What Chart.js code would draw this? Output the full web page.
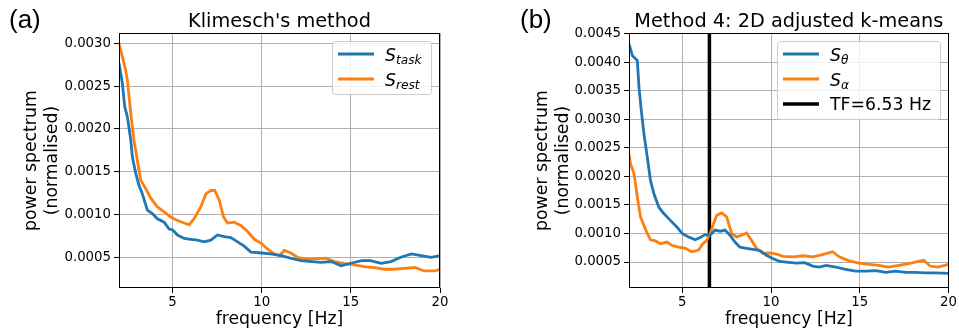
<!DOCTYPE html>
<html>
<head>
<meta charset="utf-8">
<script src="https://cdn.jsdelivr.net/npm/chart.js@4.4.1/dist/chart.umd.min.js"></script>
<style>
  html, body { margin: 0; padding: 0; background: #fff; }
  #wrap { position: relative; width: 959px; height: 331px; overflow: hidden; }
  canvas { position: absolute; top: 0; }
  #chartA { left: 0; }
  #chartB { left: 480px; }
</style>
</head>
<body>
<div id="wrap">
  <canvas id="chartA" width="479" height="331"></canvas>
  <canvas id="chartB" width="479" height="331"></canvas>
</div>
<script>
// ---- data ----
// (a) Klimesch's method
const taskFreq = [2.0, 2.19, 2.32, 2.47, 2.66, 2.75, 2.94, 3.12, 3.31, 3.59, 3.87, 4.15, 4.53, 4.81, 5.0, 5.28, 5.65, 6.03, 6.4, 6.78, 7.15, 7.52, 7.9, 8.27, 8.65, 9.02, 9.4, 10.0, 10.5, 11.1, 11.6, 12.2, 12.8, 13.3, 13.9, 14.45, 15.0, 15.6, 16.1, 16.7, 17.25, 17.8, 18.4, 18.95, 19.5, 20.0];
const taskPow = [0.00277, 0.00253, 0.00226, 0.00214, 0.00187, 0.00167, 0.00148, 0.00134, 0.00124, 0.00105, 0.00101, 0.00095, 0.00091, 0.00083, 0.00082, 0.00076, 0.00072, 0.00071, 0.00070, 0.00068, 0.00070, 0.00076, 0.00074, 0.00073, 0.00068, 0.00063, 0.00056, 0.00055, 0.00054, 0.00052, 0.00049, 0.00046, 0.00045, 0.00044, 0.00045, 0.00040, 0.00043, 0.00046, 0.00046, 0.00043, 0.00045, 0.00050, 0.00054, 0.00052, 0.00050, 0.00052];
const restFreq = [2.0, 2.19, 2.37, 2.47, 2.66, 2.84, 3.03, 3.22, 3.5, 3.78, 4.15, 4.53, 4.9, 5.28, 5.65, 5.93, 6.21, 6.59, 6.87, 7.15, 7.37, 7.62, 7.86, 8.09, 8.46, 8.84, 9.21, 9.59, 10.0, 10.3, 10.7, 11.0, 11.27, 11.64, 12.0, 12.4, 12.9, 13.6, 14.08, 14.6, 15.2, 15.75, 16.3, 16.9, 17.4, 18.0, 18.6, 19.1, 19.7, 20.0];
const restPow = [0.00300, 0.00284, 0.00269, 0.00257, 0.00218, 0.00187, 0.00163, 0.00140, 0.00130, 0.00119, 0.00109, 0.00103, 0.00097, 0.00093, 0.00090, 0.00088, 0.00095, 0.00109, 0.00124, 0.00128, 0.00128, 0.00117, 0.00097, 0.00090, 0.00091, 0.00087, 0.00080, 0.00071, 0.00066, 0.00060, 0.00054, 0.00052, 0.00058, 0.00055, 0.00050, 0.00048, 0.00048, 0.00049, 0.00045, 0.00043, 0.00041, 0.00039, 0.00038, 0.00036, 0.00036, 0.00037, 0.00038, 0.00034, 0.00034, 0.00036];

// (b) Method 4
const thetaFreq = [2.0, 2.19, 2.37, 2.47, 2.56, 2.69, 2.84, 3.03, 3.21, 3.4, 3.68, 3.96, 4.33, 4.71, 4.99, 5.36, 5.73, 6.01, 6.29, 6.57, 6.85, 7.13, 7.41, 7.69, 7.97, 8.25, 8.62, 9.0, 9.37, 9.74, 10.1, 10.49, 10.86, 11.42, 11.9, 12.35, 12.73, 13.1, 13.66, 14.2, 14.77, 15.34, 15.9, 16.46, 17.0, 17.6, 18.1, 18.7, 19.25, 20.0];
const thetaPow = [0.00432, 0.00412, 0.00406, 0.00403, 0.00357, 0.00316, 0.00275, 0.00234, 0.00193, 0.00170, 0.00146, 0.00135, 0.00123, 0.00111, 0.00100, 0.00094, 0.00089, 0.00093, 0.00098, 0.00097, 0.00106, 0.00104, 0.00106, 0.00097, 0.00085, 0.00076, 0.00074, 0.00072, 0.00070, 0.00062, 0.00056, 0.00051, 0.00050, 0.00048, 0.00049, 0.00043, 0.00041, 0.00044, 0.00041, 0.00037, 0.00034, 0.00034, 0.00035, 0.00032, 0.00034, 0.00032, 0.00032, 0.00031, 0.00031, 0.00030];
const alphaFreq = [2.0, 2.09, 2.28, 2.47, 2.65, 2.84, 3.03, 3.21, 3.49, 3.77, 4.14, 4.42, 4.79, 5.17, 5.54, 5.92, 6.16, 6.38, 6.57, 6.76, 6.94, 7.22, 7.5, 7.78, 8.06, 8.34, 8.62, 8.9, 9.18, 9.55, 9.93, 10.3, 10.68, 11.24, 11.8, 12.35, 12.9, 13.47, 13.84, 14.4, 14.96, 15.5, 16.07, 16.6, 17.2, 17.75, 18.3, 18.6, 18.96, 19.4, 20.0];
const alphaPow = [0.00240, 0.00222, 0.00205, 0.00164, 0.00129, 0.00114, 0.00100, 0.00089, 0.00087, 0.00082, 0.00085, 0.00079, 0.00076, 0.00074, 0.00068, 0.00071, 0.00082, 0.00088, 0.00100, 0.00117, 0.00132, 0.00136, 0.00129, 0.00100, 0.00094, 0.00097, 0.00101, 0.00088, 0.00074, 0.00065, 0.00066, 0.00064, 0.00060, 0.00059, 0.00061, 0.00059, 0.00063, 0.00068, 0.00059, 0.00052, 0.00048, 0.00046, 0.00044, 0.00041, 0.00044, 0.00047, 0.00051, 0.00053, 0.00043, 0.00041, 0.00046];
const tfFreq = 6.53;

// ticks
const xTicks = [5, 10, 15, 20];
const yTicksA = [0.0005, 0.0010, 0.0015, 0.0020, 0.0025, 0.0030];
const yTicksB = [0.0005, 0.0010, 0.0015, 0.0020, 0.0025, 0.0030, 0.0035, 0.0040, 0.0045];

const BLUE = "#1f77b4";
const ORANGE = "#ff7f0e";
const FONT = '"DejaVu Sans", sans-serif';

Chart.defaults.font.family = FONT;
Chart.defaults.color = "#000";

function toPoints(xs, ys) {
  return xs.map((x, i) => ({ x: x, y: ys[i] }));
}

function lineSet(label, main, sub, xs, ys, color, width) {
  return {
    label: label,
    legendMain: main,
    legendSub: sub,
    data: toPoints(xs, ys),
    borderColor: color,
    borderWidth: width,
    pointRadius: 0,
    tension: 0,
    clip: 0,
  };
}

// spines + matplotlib-style legend box, drawn on top of the lines
const frameLegend = {
  id: "frameLegend",
  afterDatasetsDraw(chart) {
    const ctx = chart.ctx;
    const a = chart.chartArea;
    ctx.save();
    ctx.strokeStyle = "#000";
    ctx.lineWidth = 1;
    ctx.strokeRect(Math.round(a.left) + 0.5, Math.round(a.top) + 0.5,
      Math.round(a.right - a.left) - 1, Math.round(a.bottom - a.top) - 1);

    const items = chart.data.datasets;
    const mainItalic = "italic 17.3px " + FONT;
    const mainPlain = "17.3px " + FONT;
    const subFont = "italic 12.2px " + FONT;
    let maxW = 0;
    items.forEach((d) => {
      ctx.font = d.legendSub ? mainItalic : mainPlain;
      let w = ctx.measureText(d.legendMain).width;
      if (d.legendSub) {
        ctx.font = subFont;
        w += ctx.measureText(d.legendSub).width;
      }
      maxW = Math.max(maxW, w);
    });
    const w = Math.round(53 + maxW + 9);
    const h = items.length * 25 + 3;
    const bx = Math.round(a.right) - 9 - w;
    const by = Math.round(a.top) + 8;

    ctx.beginPath();
    ctx.roundRect(bx + 0.5, by + 0.5, w, h, 3);
    ctx.fillStyle = "rgba(255,255,255,0.8)";
    ctx.fill();
    ctx.strokeStyle = "#cccccc";
    ctx.stroke();

    items.forEach((d, i) => {
      const y = by + 13 + i * 25;
      ctx.beginPath();
      ctx.moveTo(bx + 6, y);
      ctx.lineTo(bx + 42, y);
      ctx.strokeStyle = d.borderColor;
      ctx.lineWidth = d.borderWidth;
      ctx.stroke();
      ctx.fillStyle = "#000";
      ctx.textBaseline = "alphabetic";
      ctx.textAlign = "left";
      if (d.legendSub) {
        ctx.font = mainItalic;
        ctx.fillText(d.legendMain, bx + 53, y + 6.5);
        const sw = ctx.measureText(d.legendMain).width;
        ctx.font = subFont;
        ctx.fillText(d.legendSub, bx + 53 + sw, y + 9.5);
      } else {
        ctx.font = mainPlain;
        ctx.fillText(d.legendMain, bx + 53, y + 6);
      }
    });
    ctx.restore();
  },
};

// "(a)" / "(b)" panel letters
const panelTag = {
  id: "panelTag",
  afterDraw(chart, args, opts) {
    const ctx = chart.ctx;
    ctx.save();
    ctx.font = '26px "Liberation Sans", Arial, sans-serif';
    ctx.fillStyle = "#000";
    ctx.textBaseline = "middle";
    ctx.textAlign = "left";
    ctx.fillText(opts.text, opts.x, 21);
    ctx.restore();
  },
};

function buildChart(canvasId, opt) {
  return new Chart(document.getElementById(canvasId), {
    type: "line",
    data: { datasets: opt.datasets },
    options: {
      responsive: false,
      animation: false,
      events: [],
      layout: { padding: { left: opt.padLeft, right: opt.padRight, top: 0, bottom: 0 } },
      plugins: {
        legend: { display: false },
        tooltip: { enabled: false },
        title: {
          display: true,
          text: opt.title,
          fullSize: false,
          color: "#000",
          font: { size: 19.3, weight: "normal" },
          padding: { top: 10, bottom: 0 },
        },
        panelTag: { text: opt.tag, x: opt.tagX },
      },
      scales: {
        x: {
          type: "linear",
          min: 2,
          max: 20,
          afterBuildTicks: (s) => { s.ticks = xTicks.map((v) => ({ value: v })); },
          afterFit: (s) => { s.height = 43; },
          border: { display: false },
          grid: { color: "#b0b0b0", lineWidth: 1, tickColor: "#000", tickLength: 5 },
          ticks: { font: { size: 13.3 }, color: "#000", padding: 2, maxRotation: 0, callback: (v) => v },
          title: { display: true, text: "frequency [Hz]", color: "#000", font: { size: 17.3 }, padding: { top: 0, bottom: 1 } },
        },
        y: {
          type: "linear",
          min: opt.yMin,
          max: opt.yMax,
          afterBuildTicks: (s) => { s.ticks = opt.yTicks.map((v) => ({ value: v })); },
          afterFit: (s) => { s.width = opt.yWidth; },
          border: { display: false },
          grid: { color: "#b0b0b0", lineWidth: 1, tickColor: "#000", tickLength: 5 },
          ticks: { font: { size: 13.3 }, color: "#000", padding: 3, callback: (v) => v.toFixed(4) },
          title: { display: true, text: ["power spectrum", "(normalised)"], color: "#000", font: { size: 17.3 }, padding: { top: 0, bottom: 0 } },
        },
      },
    },
    plugins: [frameLegend, panelTag],
  });
}

buildChart("chartA", {
  title: "Klimesch's method",
  tag: "(a)",
  tagX: 9,
  padLeft: 21,
  yWidth: 98,
  padRight: 39,
  yMin: 0.000141,
  yMax: 0.003118,
  yTicks: yTicksA,
  datasets: [
    lineSet("S_task", "S", "task", taskFreq, taskPow, BLUE, 2.8),
    lineSet("S_rest", "S", "rest", restFreq, restPow, ORANGE, 2.8),
  ],
});

buildChart("chartB", {
  title: "Method 4: 2D adjusted k-means",
  tag: "(b)",
  tagX: 40,
  padLeft: 52,
  yWidth: 97,
  padRight: 9,
  yMin: 0.000045,
  yMax: 0.00451,
  yTicks: yTicksB,
  datasets: [
    lineSet("S_theta", "S", "θ", thetaFreq, thetaPow, BLUE, 2.8),
    lineSet("S_alpha", "S", "α", alphaFreq, alphaPow, ORANGE, 2.8),
    lineSet("TF", "TF=" + tfFreq + " Hz", "", [tfFreq, tfFreq], [0, 0.005], "#000", 3.5),
  ],
});
</script>
</body>
</html>
